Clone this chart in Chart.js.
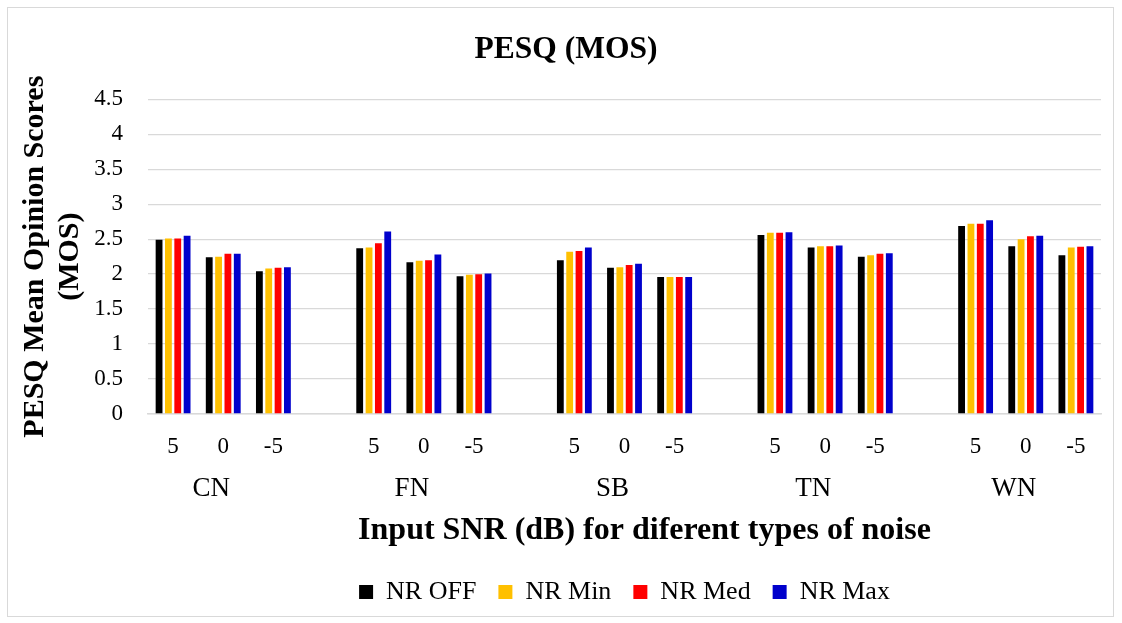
<!DOCTYPE html>
<html>
<head>
<meta charset="utf-8">
<script src="https://cdn.jsdelivr.net/npm/chart.js@4.4.1/dist/chart.umd.min.js"></script>
<style>
  html, body { margin: 0; padding: 0; background: #ffffff; }
  #wrap { width: 1122px; height: 623px; position: relative; }
</style>
</head>
<body>
<div id="wrap"><canvas id="c" width="1122" height="623"></canvas></div>
<script>
// ---- Data ----
const noiseTypes = ['CN', 'FN', 'SB', 'TN', 'WN'];
const snrLevels = ['5', '0', '-5'];
const seriesNames = ['NR OFF', 'NR Min', 'NR Med', 'NR Max'];
const nrOff = [2.49, 2.24, 2.04, 2.37, 2.17, 1.97, 2.20, 2.09, 1.96, 2.56, 2.38, 2.25, 2.69, 2.40, 2.27];
const nrMin = [2.51, 2.25, 2.08, 2.38, 2.19, 1.99, 2.32, 2.10, 1.96, 2.59, 2.40, 2.27, 2.72, 2.50, 2.38];
const nrMed = [2.51, 2.29, 2.09, 2.44, 2.20, 2.00, 2.33, 2.13, 1.96, 2.59, 2.40, 2.29, 2.72, 2.54, 2.39];
const nrMax = [2.55, 2.29, 2.10, 2.61, 2.28, 2.01, 2.38, 2.15, 1.96, 2.60, 2.41, 2.30, 2.77, 2.55, 2.40];
const yTickValues = [0, 0.5, 1, 1.5, 2, 2.5, 3, 3.5, 4, 4.5];

// ---- Build slot layout: 3 SNR levels per noise type, one blank slot between groups ----
const snrLabels = [];
const groupLabels = [];
function expand(values) {
  const out = [];
  noiseTypes.forEach((g, gi) => {
    if (gi > 0) out.push(null);
    snrLevels.forEach((s, si) => out.push(values[gi * snrLevels.length + si]));
  });
  return out;
}
noiseTypes.forEach((g, gi) => {
  if (gi > 0) { snrLabels.push(''); groupLabels.push(''); }
  snrLevels.forEach((s, si) => {
    snrLabels.push(s);
    groupLabels.push(si === 1 ? g : '');
  });
});

const colors = ['#000000', '#FFC000', '#FF0000', '#0000CC'];
const seriesValues = [nrOff, nrMin, nrMed, nrMax];
const FONT = "'Liberation Serif', 'Times New Roman', serif";

const frame = {
  id: 'frame',
  beforeDraw(chart) {
    const ctx = chart.ctx;
    ctx.save();
    ctx.fillStyle = '#ffffff';
    ctx.fillRect(0, 0, chart.width, chart.height);
    ctx.strokeStyle = '#d9d9d9';
    ctx.lineWidth = 1;
    ctx.strokeRect(7.5, 7.5, 1106, 609);
    ctx.restore();
  }
};

new Chart(document.getElementById('c'), {
  type: 'bar',
  data: {
    labels: snrLabels,
    datasets: seriesNames.map((n, i) => ({
      label: n,
      data: expand(seriesValues[i]),
      backgroundColor: colors[i],
      borderWidth: 0,
      categoryPercentage: 0.745,
      barPercentage: 0.73,
      xAxisID: 'x',
      yAxisID: 'y'
    }))
  },
  options: {
    responsive: false,
    devicePixelRatio: 1,
    animation: false,
    layout: { padding: { left: 10, right: 0, top: 0, bottom: 8 } },
    plugins: {
      tooltip: { enabled: false },
      title: {
        display: true,
        text: 'PESQ (MOS)',
        color: '#000000',
        font: { family: FONT, size: 31.5, weight: 'bold', lineHeight: 1.2 },
        padding: { top: 30.5, bottom: 31 }
      },
      legend: {
        display: true,
        position: 'bottom',
        fullSize: false,
        labels: {
          color: '#000000',
          font: { family: FONT, size: 26 },
          boxWidth: 14,
          boxHeight: 14,
          padding: 22
        }
      }
    },
    scales: {
      x: {
        type: 'category',
        position: 'bottom',
        weight: 0,
        offset: true,
        grid: { display: false, drawTicks: false },
        border: { display: true, color: '#d9d9d9', width: 1.5 },
        ticks: {
          color: '#000000',
          font: { family: FONT, size: 23 },
          padding: 19,
          autoSkip: false,
          maxRotation: 0
        },
        afterFit(scale) { scale.height = 54; }
      },
      x2: {
        type: 'category',
        position: 'bottom',
        weight: 1,
        offset: true,
        labels: groupLabels,
        grid: { display: false, drawTicks: false },
        border: { display: false },
        ticks: {
          color: '#000000',
          font: { family: FONT, size: 27 },
          padding: 5,
          labelOffset: -12,
          autoSkip: false,
          maxRotation: 0
        },
        title: {
          display: true,
          text: '\u00A0\u00A0\u00A0\u00A0\u00A0Input SNR (dB) for diferent types of noise',
          color: '#000000',
          font: { family: FONT, size: 32, weight: 'bold', lineHeight: 1.2 },
          padding: { top: 0, bottom: 7 }
        },
        afterFit(scale) { scale.height = 89; }
      },
      y: {
        type: 'linear',
        position: 'left',
        min: 0,
        max: 4.5,
        afterBuildTicks(scale) { scale.ticks = yTickValues.map(v => ({ value: v })); },
        grid: { color: '#d9d9d9', lineWidth: 1.3, drawTicks: false },
        border: { display: false },
        ticks: {
          color: '#000000',
          font: { family: FONT, size: 23 },
          padding: 25,
          callback: (v) => String(v)
        },
        title: {
          display: true,
          text: ['PESQ Mean Opinion Scores', '(MOS)'],
          color: '#000000',
          font: { family: FONT, size: 30, weight: 'bold', lineHeight: 35 / 30 },
          padding: { top: 7.5, bottom: 0 }
        },
        afterFit(scale) { scale.width = 138; }
      },
      yR: {
        type: 'linear',
        position: 'right',
        display: true,
        grid: { display: false },
        border: { display: false },
        ticks: { display: false },
        afterFit(scale) { scale.width = 21; }
      }
    }
  },
  plugins: [frame]
});
</script>
</body>
</html>
